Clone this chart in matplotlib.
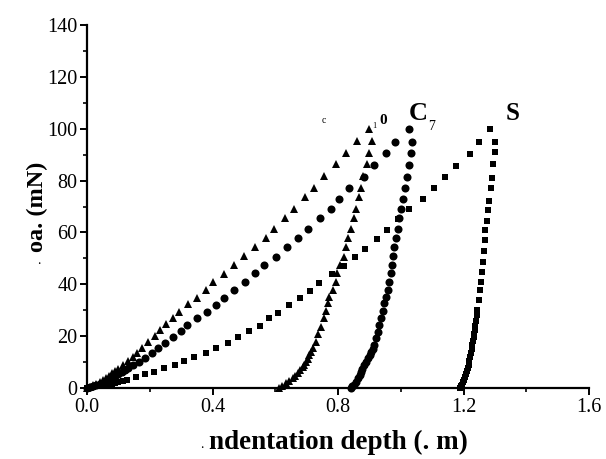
import numpy as np
import matplotlib
matplotlib.use("Agg")
import matplotlib.pyplot as plt

plt.rcParams['font.family'] = ['Liberation Serif', 'DejaVu Serif']

# C10 (triangles): loading then unloading
c10_depth = [0.0, 0.01, 0.02, 0.03, 0.04, 0.05, 0.06, 0.07, 0.08, 0.09, 0.10,
             0.115, 0.13, 0.145, 0.16, 0.175, 0.195, 0.218, 0.234, 0.253, 0.275,
             0.294, 0.323, 0.352, 0.378, 0.403, 0.435, 0.467, 0.50, 0.535, 0.57,
             0.595, 0.63, 0.659, 0.694, 0.723, 0.755, 0.794, 0.826, 0.861, 0.90,
             0.909, 0.899, 0.893, 0.88, 0.874, 0.867, 0.858, 0.851, 0.842, 0.832,
             0.826, 0.819, 0.806, 0.797, 0.794, 0.784, 0.771, 0.768, 0.762, 0.755,
             0.746, 0.736, 0.73, 0.72, 0.715, 0.707, 0.703, 0.698, 0.693, 0.688,
             0.68, 0.672, 0.664, 0.656, 0.645, 0.634, 0.622, 0.611]
c10_load = [0.0, 0.5, 1.0, 1.6, 2.3, 3.0, 3.8, 4.7, 5.6, 6.5, 7.5,
            9.0, 10.5, 12.0, 13.6, 15.3, 17.7, 20.0, 22.3, 24.6, 26.9,
            29.2, 32.3, 34.6, 37.7, 40.8, 44.0, 47.3, 50.8, 54.3, 57.7,
            61.5, 65.4, 69.2, 73.5, 77.3, 81.9, 86.5, 90.8, 95.4, 100.0,
            95.4, 90.8, 86.5, 81.9, 77.3, 73.5, 69.2, 65.4, 61.5, 57.7,
            54.3, 50.4, 47.3, 44.2, 40.8, 37.7, 35.0, 32.7, 29.6, 26.9,
            23.5, 20.8, 17.7, 15.4, 14.0, 12.7, 11.3, 10.0, 9.0, 8.1,
            7.0, 5.8, 4.8, 3.8, 2.8, 1.9, 0.9, 0.0]

# C7 (circles)
c7_depth = [0.0, 0.01, 0.02, 0.03, 0.04, 0.05, 0.06, 0.07, 0.08, 0.09, 0.10,
            0.11, 0.12, 0.13, 0.145, 0.165, 0.186, 0.208, 0.227, 0.25, 0.275,
            0.298, 0.32, 0.352, 0.381, 0.41, 0.438, 0.467, 0.502, 0.534, 0.563,
            0.602, 0.637, 0.672, 0.704, 0.742, 0.778, 0.803, 0.835, 0.883, 0.915,
            0.954, 0.982, 1.027,
            1.037, 1.034, 1.027, 1.021, 1.014, 1.008, 1.0, 0.995, 0.99, 0.986,
            0.979, 0.976, 0.973, 0.97, 0.963, 0.96, 0.953, 0.947, 0.944, 0.938,
            0.93, 0.928, 0.922, 0.915, 0.91, 0.906, 0.901, 0.896, 0.89, 0.883,
            0.878, 0.874, 0.869, 0.864, 0.858, 0.851, 0.846, 0.842]
c7_load = [0.0, 0.3, 0.7, 1.1, 1.6, 2.1, 2.7, 3.3, 4.0, 4.7, 5.4,
           6.2, 7.0, 7.6, 8.7, 10.0, 11.5, 13.5, 15.4, 17.3, 19.6,
           21.9, 24.2, 26.9, 29.2, 31.9, 34.6, 37.7, 40.8, 44.2, 47.3,
           50.4, 54.3, 57.7, 61.5, 65.4, 69.2, 73.0, 77.3, 81.5, 86.2,
           90.8, 95.0, 100.0,
           95.0, 90.8, 86.2, 81.5, 77.3, 73.0, 69.2, 65.4, 61.5, 57.7,
           54.3, 50.8, 47.3, 44.2, 40.8, 37.7, 35.0, 32.7, 29.6, 26.9,
           24.2, 21.5, 19.2, 16.5, 15.0, 13.8, 12.6, 11.5, 10.1, 8.8,
           7.5, 6.2, 5.0, 3.8, 2.5, 1.2, 0.6, 0.0]

# S (squares)
s_depth = [0.0, 0.01, 0.02, 0.03, 0.04, 0.05, 0.06, 0.07, 0.08, 0.09, 0.10,
           0.115, 0.128, 0.157, 0.185, 0.215, 0.245, 0.28, 0.31, 0.34, 0.38,
           0.41, 0.45, 0.48, 0.515, 0.55, 0.58, 0.61, 0.645, 0.68, 0.71,
           0.74, 0.78, 0.82, 0.855, 0.885, 0.925, 0.955, 0.99, 1.027, 1.07,
           1.107, 1.14, 1.175, 1.22, 1.25, 1.283,
           1.30, 1.30, 1.295, 1.29, 1.286, 1.28, 1.277, 1.274, 1.27, 1.267,
           1.264, 1.261, 1.258, 1.255, 1.252, 1.248, 1.244, 1.242, 1.240, 1.238,
           1.236, 1.234, 1.232, 1.230, 1.228, 1.226, 1.224, 1.222, 1.219, 1.217,
           1.214, 1.211, 1.208, 1.205, 1.202, 1.199, 1.196, 1.193, 1.19]
s_load = [0.0, 0.2, 0.4, 0.6, 0.8, 1.0, 1.2, 1.4, 1.7, 2.0, 2.3,
          2.7, 3.0, 4.3, 5.4, 6.2, 7.6, 8.8, 10.4, 11.8, 13.5,
          15.5, 17.3, 19.6, 22.0, 24.0, 27.0, 29.0, 32.0, 34.6, 37.3,
          40.6, 44.0, 47.0, 50.4, 53.8, 57.3, 61.0, 65.0, 69.0, 73.0,
          77.0, 81.5, 85.8, 90.4, 95.0, 100.0,
          95.0, 91.0, 86.5, 81.0, 77.0, 72.0, 68.5, 64.6, 60.8, 57.0,
          53.0, 48.5, 44.6, 40.8, 37.7, 34.0, 30.0, 28.0, 26.0, 24.0,
          22.5, 21.0, 19.5, 18.0, 16.5, 15.0, 13.5, 12.0, 10.5, 9.0,
          7.8, 6.6, 5.4, 4.3, 3.2, 2.2, 1.3, 0.6, 0.0]

fig = plt.figure(figsize=(6.06, 4.59), dpi=100)
ax = fig.add_axes([0.1436, 0.1547, 0.8284, 0.7908])

ax.plot(c10_depth, c10_load, '^', color='black', ms=6.0, mew=0, clip_on=False)
ax.plot(c7_depth, c7_load, 'o', color='black', ms=5.8, mew=0, clip_on=False)
ax.plot(s_depth, s_load, 's', color='black', ms=4.9, mew=0, clip_on=False)

ax.set_xlim(0, 1.6)
ax.set_ylim(0, 140)
ax.set_xticks([0.0, 0.4, 0.8, 1.2, 1.6])
ax.set_xticks([0.2, 0.6, 1.0, 1.4], minor=True)
ax.set_yticks(np.arange(0, 141, 20))
ax.set_yticks(np.arange(10, 140, 20), minor=True)
ax.set_xticklabels(['0.0', '0.4', '0.8', '1.2', '1.6'])

for s in ['top', 'right']:
    ax.spines[s].set_visible(False)
for s in ['left', 'bottom']:
    ax.spines[s].set_linewidth(1.6)
ax.tick_params(which='major', direction='out', length=5, width=1.4, labelsize=14.5, pad=2)
ax.tick_params(which='minor', direction='out', length=3, width=1.2)

ax.set_xlabel('ndentation depth (. m)', fontsize=19.5, fontweight='bold')
ax.set_ylabel('oa. (mN)', fontsize=17.5, fontweight='bold')
ax.xaxis.set_label_coords(0.5, -0.115)
ax.yaxis.set_label_coords(-0.078, 0.5)
fig.text(0.064, 0.425, '.', fontsize=10, ha='center')
fig.text(0.333, 0.024, '.', fontsize=10, ha='center')

# curve labels
ax.text(0.755, 101.5, 'c', fontsize=7, ha='center', va='bottom')
ax.text(0.915, 99.5, '1', fontsize=6, ha='center', va='bottom')
ax.text(0.943, 100.5, '0', fontsize=11, fontweight='bold', ha='center', va='bottom')
ax.text(1.057, 101.5, 'C', fontsize=19, fontweight='bold', ha='center', va='bottom')
ax.text(1.098, 98.5, '7', fontsize=10, ha='center', va='bottom')
ax.text(1.355, 101.5, 'S', fontsize=18, fontweight='bold', ha='center', va='bottom')

fig.savefig('out.png', dpi=100)
